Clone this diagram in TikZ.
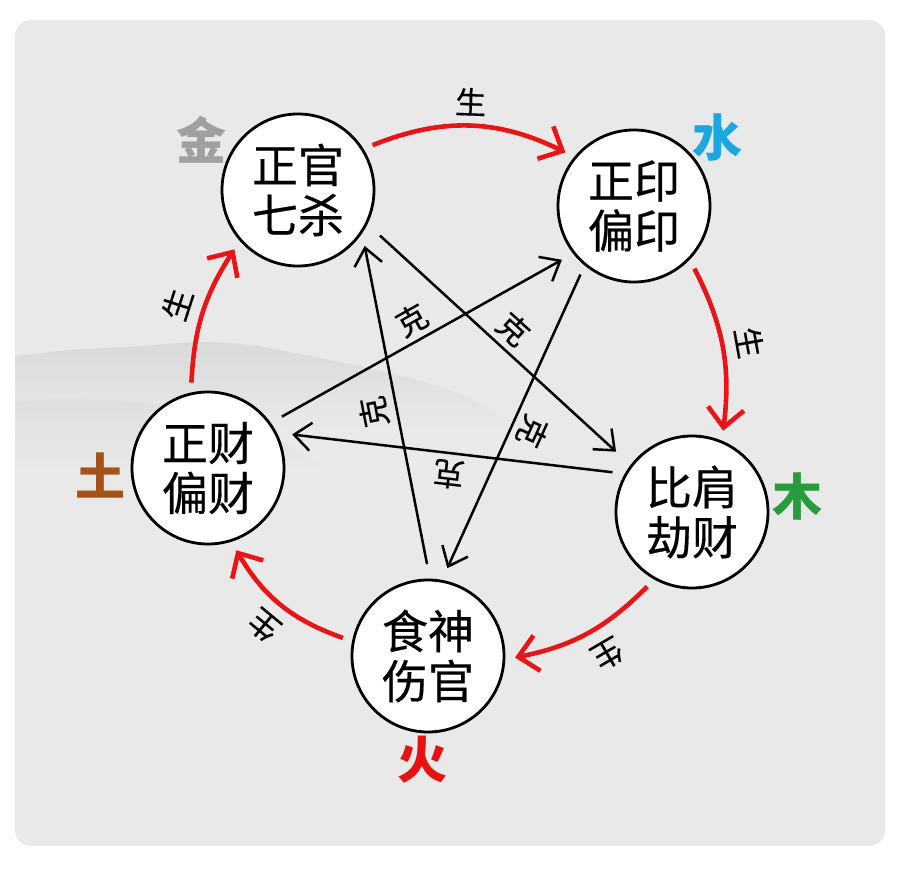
\documentclass[tikz,border=0pt]{standalone}
\usepackage{fontspec}
\newfontfamily\cjk[FakeBold=0.4]{Noto Sans CJK SC}
\newfontfamily\cjkb{Noto Sans CJK SC}
\usetikzlibrary{arrows.meta}
\definecolor{bg}{RGB}{233,233,233}
\definecolor{myred}{RGB}{232,20,22}
\definecolor{jin}{RGB}{160,160,160}
\definecolor{shui}{RGB}{27,167,224}
\definecolor{mu}{RGB}{40,155,60}
\definecolor{huo}{RGB}{230,18,18}
\definecolor{tu}{RGB}{165,82,25}
\definecolor{mist}{RGB}{218,218,218}
\tikzset{
  god/.style={circle, draw=black, line width=2.8pt, fill=white, minimum size=152pt, inner sep=0pt, outer sep=11pt, font=\cjk\fontsize{46}{50}\selectfont, align=center},
  elem/.style={font=\cjkb\bfseries\fontsize{50}{50}\selectfont, inner sep=0pt},
  sheng/.style={draw=myred, line width=4.6pt, -{Straight Barb[length=19pt,width=36pt]}},
  ke/.style={draw=black, line width=2.5pt, -{Straight Barb[length=17pt,width=28pt]}},
  lbl/.style={font=\cjk\fontsize{31}{31}\selectfont, sloped, allow upside down, inner sep=0pt, anchor=center, pos=0.5},
}
\begin{document}
\begin{tikzpicture}[x=1pt,y=1pt]
\useasboundingbox (0,0) rectangle (900,-872);
\fill[white] (0,0) rectangle (900,-872);
\fill[bg, rounded corners=16pt] (15,-20) rectangle (885,-846);
% mist
\shade[top color=mist, bottom color=bg] plot[smooth] coordinates {(15,-356) (70,-350) (140,-346) (200,-342) (250,-345) (300,-354) (350,-364) (410,-378) (470,-398) (520,-430)} -- (15,-430) -- cycle;
\shade[top color=mist!70!bg, bottom color=bg] plot[smooth] coordinates {(15,-402) (60,-399) (120,-401) (170,-407) (220,-419) (270,-436) (330,-470)} -- (15,-470) -- cycle;
% nodes
\node[god] (zg) at (298,-190) {正官\\七杀};
\node[god] (zy) at (634,-206) {正印\\偏印};
\node[god] (bj) at (692,-512) {比肩\\劫财};
\node[god] (ss) at (428,-656) {食神\\伤官};
\node[god] (zc) at (208,-468) {正财\\偏财};
\node[elem, text=jin] (tj) at (201,-140) {金};
\node[elem, text=shui] (ts) at (717,-138) {水};
\node[elem, text=mu] (tm) at (797,-496) {木};
\node[elem, text=huo] (th) at (422,-760) {火};
\node[elem, text=tu] (tt) at (100,-475) {土};
% sheng arcs
\draw[sheng] (zg.31) to[bend left=24] node[lbl, yshift=24pt] {生} (zy.142);
\draw[sheng] (zy.-46) to[bend left=17] node[lbl, yshift=27pt] {生} (bj.69);
\draw[sheng] (bj.-121) to[bend left=17] node[lbl, pos=0.45, yshift=28pt] {生} (ss.-1);
\draw[sheng] (ss.168) to[bend left=20] node[lbl, yshift=27pt] {生} (zc.-71);
\draw[sheng] (zc.101) to[bend left=15] node[lbl, yshift=27pt] {生} (zg.-137);
% ke lines
\draw[ke, shorten <=7pt, shorten >=10pt] (zg.-28.5) -- node[lbl, yshift=21pt] {克} (bj.142);
\draw[ke, shorten <=5pt] (ss.90) -- node[lbl, yshift=23pt] {克} (zg.-40);
\draw[ke, shorten <=3pt, shorten >=3pt] (zc.35) -- node[lbl, yshift=21pt] {克} (zy.-143);
\draw[ke, shorten <=2pt, shorten >=4pt] (bj.153) -- node[lbl, yshift=21pt] {克} (zc.23);
\draw[ke, shorten >=3pt] (zy.-128) -- node[lbl, yshift=21pt] {克} (ss.78);
\end{tikzpicture}
\end{document}
